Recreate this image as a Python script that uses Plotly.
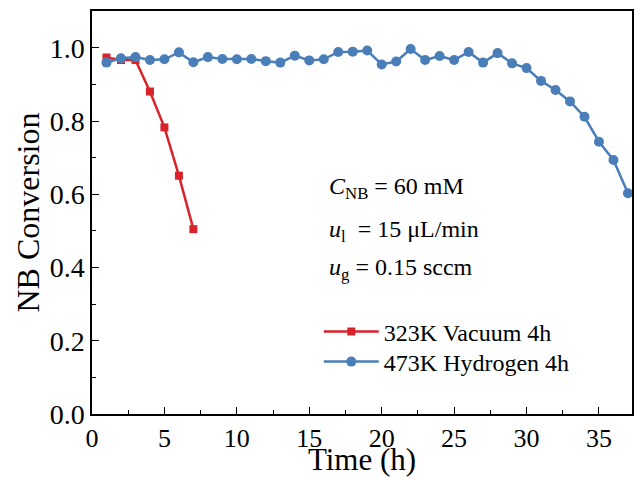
import plotly.graph_objects as go

# Data
time_red = [1, 2, 3, 4, 5, 6, 7]
conv_red = [0.974, 0.967, 0.967, 0.881, 0.783, 0.651, 0.505]

time_blue = list(range(1, 38))
conv_blue = [0.960, 0.972, 0.975, 0.967, 0.969, 0.988, 0.961, 0.975, 0.970, 0.969,
             0.970, 0.964, 0.960, 0.979, 0.966, 0.969, 0.989, 0.990, 0.993, 0.955,
             0.963, 0.997, 0.967, 0.978, 0.967, 0.989, 0.960, 0.986, 0.958, 0.945,
             0.910, 0.885, 0.854, 0.812, 0.744, 0.694, 0.603]

name_red = "323K Vacuum 4h"
name_blue = "473K Hydrogen 4h"

RED = "#D9232A"
BLUE = "#4A7EB8"
FONT = "Liberation Serif"

fig = go.Figure()
fig.add_trace(go.Scatter(x=time_red, y=conv_red, mode="lines+markers", name=name_red,
                         line=dict(color=RED, width=2.5),
                         marker=dict(symbol="square", size=8, color=RED),
                         legend="legend"))
fig.add_trace(go.Scatter(x=time_blue, y=conv_blue, mode="lines+markers", name=name_blue,
                         line=dict(color=BLUE, width=2.5),
                         marker=dict(symbol="circle", size=10, color=BLUE),
                         legend="legend2"))

fig.update_xaxes(range=[0, 37.28], dtick=5, tick0=0,
                 showline=True, linecolor="black", linewidth=1.5, mirror=True,
                 ticks="inside", ticklen=7, tickwidth=1.2, tickcolor="black",
                 showgrid=False, zeroline=False,
                 tickfont=dict(family=FONT, size=26, color="black"),
                 minor=dict(dtick=2.5, ticks="inside", ticklen=4, tickcolor="black"),
                 title=dict(text="Time (h)", font=dict(family=FONT, size=31, color="black"),
                            standoff=0))
fig.update_yaxes(range=[0, 1.101], dtick=0.2, tick0=0, tickformat=".1f",
                 showline=True, linecolor="black", linewidth=1.5, mirror=True,
                 ticks="inside", ticklen=7, tickwidth=1.2, tickcolor="black",
                 showgrid=False, zeroline=False,
                 tickfont=dict(family=FONT, size=28, color="black"),
                 minor=dict(dtick=0.1, ticks="inside", ticklen=4, tickcolor="black"),
                 title=dict(text="NB Conversion", font=dict(family=FONT, size=32, color="black"),
                            standoff=0))

ann_font = dict(family=FONT, size=24, color="black")
fig.add_annotation(x=16.2, y=0.617, xref="x", yref="y", xanchor="left", yanchor="middle",
                   text="<i>C</i><sub>NB</sub> = 60 mM", showarrow=False, font=ann_font)
fig.add_annotation(x=16.2, y=0.50, xref="x", yref="y", xanchor="left", yanchor="middle",
                   text="<i>u</i><sub>l</sub>  = 15 μL/min", showarrow=False, font=ann_font)
fig.add_annotation(x=16.2, y=0.395, xref="x", yref="y", xanchor="left", yanchor="middle",
                   text="<i>u</i><sub>g</sub> = 0.15 sccm", showarrow=False, font=ann_font)

leg_common = dict(xanchor="left", yanchor="middle", bgcolor="rgba(0,0,0,0)",
                  font=dict(family=FONT, size=24, color="black"), itemwidth=55)

fig.update_layout(
    width=636, height=477,
    margin=dict(l=92, r=2, t=11, b=63),
    paper_bgcolor="white", plot_bgcolor="white",
    font=dict(family=FONT, size=24, color="black"),
    showlegend=True,
    legend=dict(x=0.42, y=(414 - 332) / 403, **leg_common),
    legend2=dict(x=0.42, y=(414 - 362) / 403, **leg_common),
)

fig.write_html("out.html")
